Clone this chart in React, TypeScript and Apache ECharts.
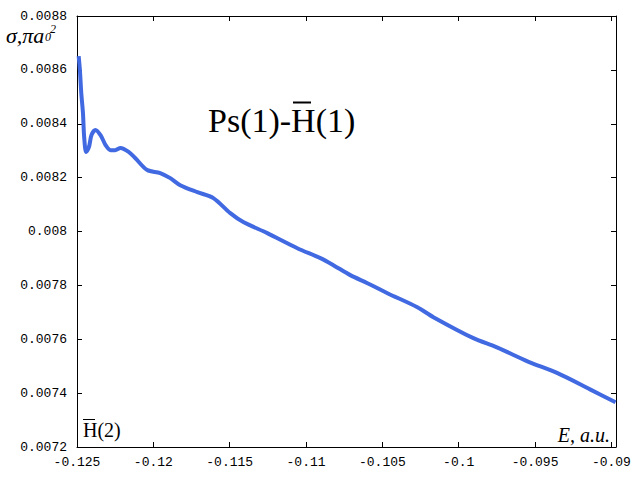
import React, { useEffect, useRef } from "react";
import * as echarts from "echarts";

const energy = [
  -0.12489, -0.12481, -0.12472, -0.12461, -0.12453, -0.1244, -0.12422, -0.12405,
  -0.12379, -0.12346, -0.12313, -0.1228, -0.1225, -0.12215, -0.1216, -0.12119,
  -0.1204, -0.11955, -0.11889, -0.11824, -0.11712, -0.11607, -0.11496, -0.11411,
  -0.11254, -0.11057, -0.10906, -0.10821, -0.1071, -0.10598, -0.10467, -0.10271,
  -0.10166, -0.09904, -0.0975, -0.0955, -0.09353, -0.0914, -0.08973,
];
const sigma = [
  0.008651, 0.008599, 0.008514, 0.00844, 0.00835, 0.008295, 0.008313, 0.008358,
  0.008377, 0.008358, 0.008321, 0.008302, 0.008302, 0.00831, 0.008295, 0.008273,
  0.008228, 0.008217, 0.008198, 0.008172, 0.008146, 0.008124, 0.008068, 0.008035,
  0.007994, 0.007938, 0.007901, 0.007875, 0.007838, 0.007808, 0.007771, 0.007719,
  0.007682, 0.007604, 0.00757, 0.007518, 0.007474, 0.007414, 0.007366,
];

const xMin = -0.125;
const xMax = -0.0897;
const xStep = 0.005;
const yMin = 0.0072;
const yMax = 0.0088;
const yStep = 0.0002;

const titleText = "Ps(1)-H(1)";
const cornerText = "H(2)";
const xName = "E, a.u.";
const yName = "σ,πa";

export default function App() {
  const ref = useRef<HTMLDivElement>(null);
  useEffect(() => {
    if (!ref.current) return;
    const chart = echarts.init(ref.current, undefined, { renderer: "svg" });
    const labelFont = { fontFamily: "Liberation Mono", fontSize: 13, color: "#000" };
    const xFmt = (v: number) => {
      const k = Math.round((v - xMin) / xStep);
      if (Math.abs(xMin + k * xStep - v) > 1e-6) return "";
      return String(+v.toFixed(3));
    };
    const yFmt = (v: number) => String(+v.toFixed(4));
    const axisLine = { show: true, onZero: false, lineStyle: { color: "#000", width: 1 } };
    const axisTick = { show: true, inside: true, length: 5, lineStyle: { color: "#000" } };
    chart.setOption({
      animation: false,
      backgroundColor: "#fff",
      grid: { left: 77, top: 16, width: 539, height: 431, containLabel: false },
      xAxis: [
        {
          type: "value", min: xMin, max: xMax, interval: xStep, position: "bottom",
          axisLine, axisTick, splitLine: { show: false },
          axisLabel: { ...labelFont, margin: 9, formatter: xFmt },
        },
        {
          type: "value", min: xMin, max: xMax, interval: xStep, position: "top",
          axisLine, axisTick, splitLine: { show: false }, axisLabel: { show: false },
        },
      ],
      yAxis: [
        {
          type: "value", min: yMin, max: yMax, interval: yStep, position: "left",
          axisLine, axisTick, splitLine: { show: false },
          axisLabel: { ...labelFont, margin: 10, formatter: yFmt },
        },
        {
          type: "value", min: yMin, max: yMax, interval: yStep, position: "right",
          axisLine, axisTick, splitLine: { show: false }, axisLabel: { show: false },
        },
      ],
      series: [
        {
          type: "line",
          data: energy.map((e, i) => [e, sigma[i]]),
          showSymbol: false,
          smooth: 0.3,
          lineStyle: { color: "#4169E1", width: 4 },
          clip: true,
        },
      ],
      graphic: [
        {
          type: "text", left: 208, top: 103,
          style: { text: titleText, font: "34px 'Liberation Serif'", fill: "#000" },
        },
        { type: "line", shape: { x1: 293, y1: 102.5, x2: 311, y2: 102.5 }, style: { stroke: "#000", lineWidth: 2 } },
        {
          type: "text", left: 83, top: 420,
          style: { text: cornerText, font: "20px 'Liberation Serif'", fill: "#000" },
        },
        { type: "line", shape: { x1: 83, y1: 419.5, x2: 95, y2: 419.5 }, style: { stroke: "#000", lineWidth: 1 } },
        {
          type: "text", right: 30, top: 425,
          style: { text: xName, font: "italic 20px 'Liberation Serif'", fill: "#000" },
        },
        {
          type: "text", left: 6, top: 24,
          style: { text: yName, font: "italic 22px 'Liberation Serif'", fill: "#000" },
        },
        {
          type: "text", left: 45, top: 31,
          style: { text: "0", font: "italic 12px 'Liberation Serif'", fill: "#000" },
        },
        {
          type: "text", left: 50, top: 23,
          style: { text: "2", font: "italic 12px 'Liberation Serif'", fill: "#000" },
        },
      ],
    });
    return () => chart.dispose();
  }, []);
  return (
    <div
      ref={ref}
      style={{ position: "absolute", left: 0, top: 0, width: 640, height: 480 }}
    />
  );
}
